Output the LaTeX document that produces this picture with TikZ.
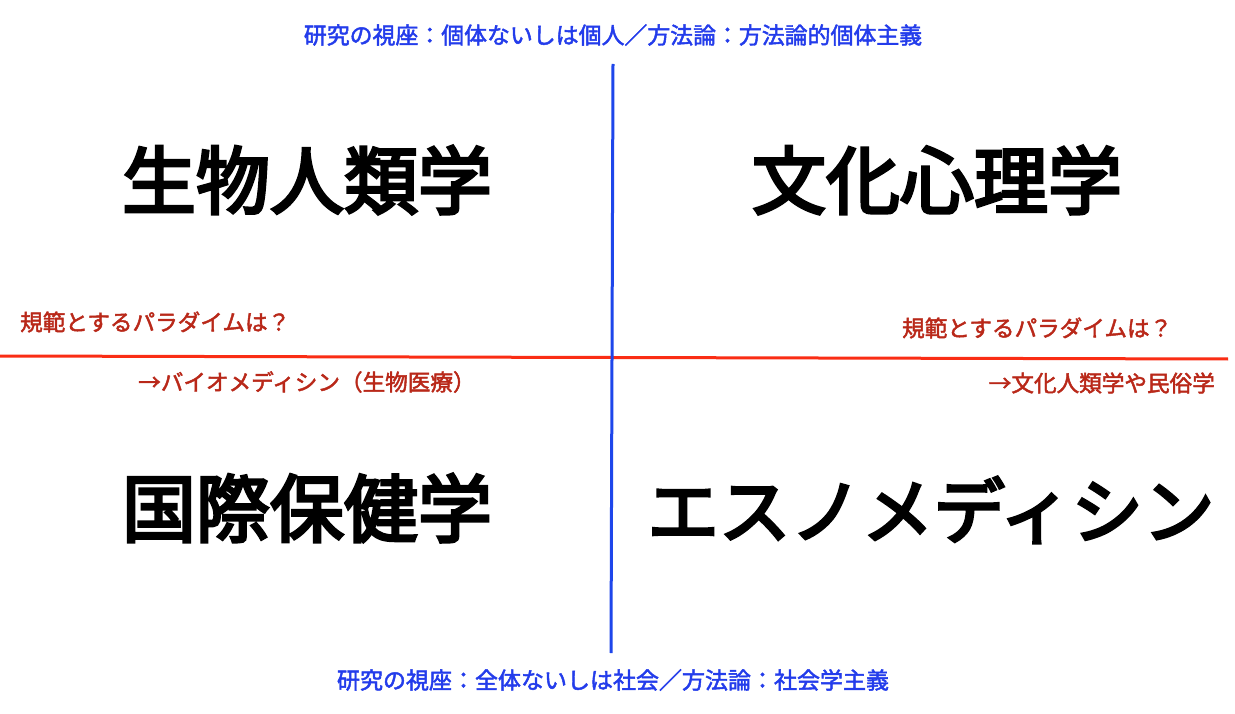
\documentclass[tikz,border=0pt]{standalone}
\usepackage{fontspec}
\setmainfont{Noto Sans CJK JP}
\newfontfamily\medfont[FakeBold=2]{Noto Sans CJK JP}
\newfontfamily\heavyfont[FakeBold=4]{Noto Sans CJK JP}
\definecolor{axisblue}{RGB}{30,70,235}
\definecolor{axisred}{RGB}{250,45,20}
\definecolor{labred}{RGB}{185,40,25}
\definecolor{labblue}{RGB}{35,60,235}
\begin{document}
\begin{tikzpicture}[x=1pt,y=-1pt,
  big/.style={font=\heavyfont\fontsize{74}{74}\selectfont, inner sep=0pt},
  toplab/.style={font=\medfont\fontsize{22.9}{23}\selectfont, text=labblue, inner sep=0pt},
  botlab/.style={toplab, font=\medfont\fontsize{23}{23}\selectfont},
  redlab/.style={font=\medfont\fontsize{22.6}{23}\selectfont, text=labred, inner sep=0pt}]
\useasboundingbox[fill=white] (0,0) rectangle (1235,714);
% axes
\coordinate (hl) at (0,356);
\coordinate (hr) at (1228,359);
\coordinate (vt) at (613,64);
\coordinate (vb) at (611,653);
\draw[axisred, line width=3pt] (hl) -- (hr);
\draw[axisblue, line width=3pt] (vt) -- (vb);
% axis labels
\node[toplab] (top) at (613,35) {研究の視座：個体ないしは個人／方法論：方法論的個体主義};
\node[botlab] (bot) at (613,680) {研究の視座：全体ないしは社会／方法論：社会学主義};
\node[redlab, anchor=west] (lq) at (20,322) {規範とするパラダイムは？};
\node[redlab, anchor=west] (rq) at (902,328) {規範とするパラダイムは？};
\node[redlab, anchor=west] (la) at (138,382) {→バイオメディシン（生物医療）};
\node[redlab, anchor=east] (ra) at (1215,383) {→文化人類学や民俗学};
% quadrants
\node[big] (q1) at (307,180) {生物人類学};
\node[big] (q2) at (937,180) {文化心理学};
\node[big] (q3) at (307,508) {国際保健学};
\node[big, font=\heavyfont\fontsize{71.5}{72}\selectfont] (q4) at (931,510) {エスノメディシン};
\end{tikzpicture}
\end{document}
